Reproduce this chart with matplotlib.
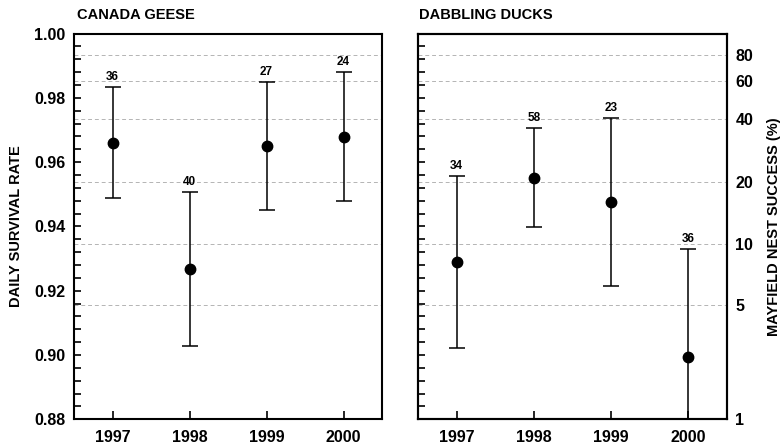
import matplotlib
matplotlib.use("Agg")
import matplotlib.pyplot as plt
import numpy as np
from matplotlib.ticker import MultipleLocator

plt.rcParams['font.family'] = ['Liberation Sans', 'DejaVu Sans']
plt.rcParams['font.weight'] = 'bold'

years = [1997, 1998, 1999, 2000]

# Canada geese
geese_dsr = [0.9660, 0.9268, 0.9650, 0.9679]
geese_upper = [0.9834, 0.9507, 0.9850, 0.9881]
geese_lower = [0.9488, 0.9028, 0.9450, 0.9478]
geese_n = [36, 40, 27, 24]

# Dabbling ducks
duck_dsr = [0.9290, 0.9551, 0.9477, 0.8994]
duck_upper = [0.9556, 0.9705, 0.9738, 0.9330]
duck_lower = [0.9022, 0.9397, 0.9214, 0.8658]
duck_n = [34, 58, 23, 36]

# Mayfield nest success scale (%), DSR ** exposure days
nest_ticks = [1, 5, 10, 20, 40, 60, 80]
nest_grid = [5, 10, 20, 40, 60, 80]
EXPOSURE_DAYS = 34

Y_MIN, Y_MAX = 0.88, 1.00
GRID_COLOR = '#b4b4b4'
TICK_FS = 11.5


def to_dsr(pct):
    return np.maximum((np.array(pct) / 100.0) ** (1.0 / EXPOSURE_DAYS), Y_MIN)


fig = plt.figure(figsize=(7.81, 4.45), dpi=100)
ax1 = fig.add_axes([0.0948, 0.0578, 0.3944, 0.8669])
ax2 = fig.add_axes([0.5352, 0.0578, 0.3957, 0.8669])


def draw_panel(ax, dsr, upper, lower, n):
    for g in to_dsr(nest_grid):
        ax.axhline(g, color=GRID_COLOR, lw=0.7, ls=(0, (4, 3)), zorder=0)
    yerr = [np.array(dsr) - np.array(lower), np.array(upper) - np.array(dsr)]
    ax.errorbar(years, dsr, yerr=yerr, fmt='o', color='black', ms=7.5,
                elinewidth=1.1, capsize=5.8, capthick=1.1, zorder=3)
    for x, u, lab in zip(years, upper, n):
        ax.annotate(str(lab), (x, u), xytext=(0, 3), textcoords='offset points',
                    ha='center', va='bottom', fontsize=8.5, fontweight='bold')
    ax.set_xlim(1996.5, 2000.5)
    ax.set_ylim(Y_MIN, Y_MAX)
    ax.set_xticks(years)
    ax.yaxis.set_major_locator(MultipleLocator(0.02))
    ax.yaxis.set_minor_locator(MultipleLocator(0.004))
    ax.tick_params(axis='both', which='both', direction='in', width=1.2,
                   labelsize=TICK_FS)
    ax.tick_params(axis='y', which='major', length=5, pad=6)
    ax.tick_params(axis='y', which='minor', length=5)
    ax.tick_params(axis='x', length=6, pad=8)
    for s in ax.spines.values():
        s.set_linewidth(1.5)
    for lab in ax.get_xticklabels() + ax.get_yticklabels():
        lab.set_fontweight('bold')


draw_panel(ax1, geese_dsr, geese_upper, geese_lower, geese_n)
draw_panel(ax2, duck_dsr, duck_upper, duck_lower, duck_n)

ax1.yaxis.set_major_formatter(plt.FuncFormatter(lambda v, p: f"{v:.2f}"))
ax1.set_ylabel('DAILY SURVIVAL RATE', fontsize=10.5, fontweight='bold', labelpad=8)
ax2.set_yticklabels([])

# right axis: Mayfield nest success
ax3 = ax2.twinx()
ax3.set_ylim(Y_MIN, Y_MAX)
ax3.set_yticks(to_dsr(nest_ticks))
ax3.set_yticklabels([str(t) for t in nest_ticks], fontweight='bold', fontsize=TICK_FS)
ax3.tick_params(axis='y', length=0, pad=6)
ax3.set_ylabel('MAYFIELD NEST SUCCESS (%)', fontsize=10.5, fontweight='bold', labelpad=10)
for s in ax3.spines.values():
    s.set_linewidth(1.5)

fig.text(0.0986, 0.958, 'CANADA GEESE', fontsize=10.5, fontweight='bold', va='baseline')
fig.text(0.5365, 0.958, 'DABBLING DUCKS', fontsize=10.5, fontweight='bold', va='baseline')

fig.savefig('out.png', dpi=100)
